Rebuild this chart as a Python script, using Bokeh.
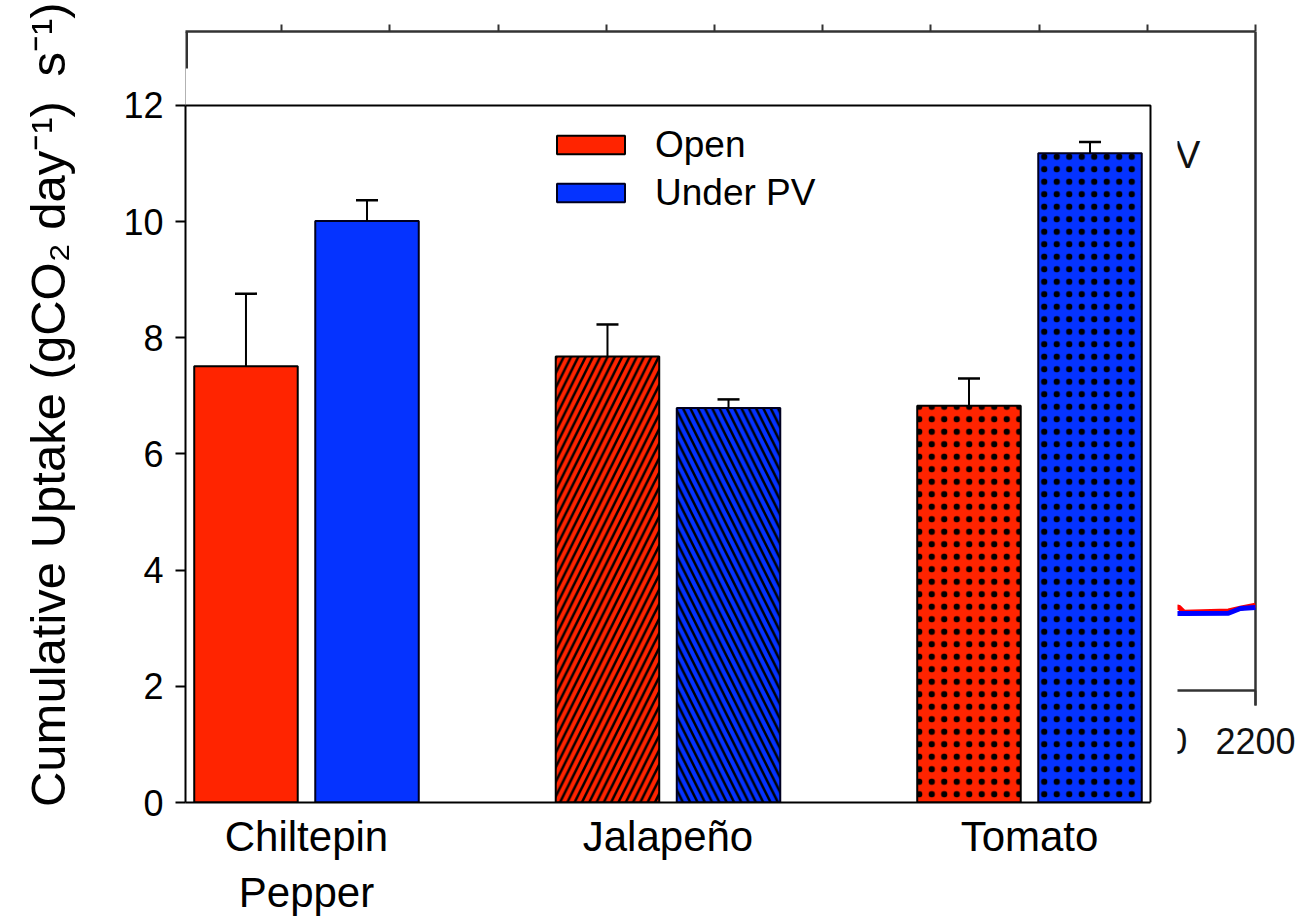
from bokeh.plotting import figure
from bokeh.models import (Range1d, LinearAxis, FixedTicker, Whisker, ColumnDataSource,
                          Legend, LegendItem, TeeHead)
from bokeh.embed import file_html
from bokeh.resources import INLINE
from bokeh.core.properties import value

# ---------------- data (foreground bar chart) ----------------
crops = ["Chiltepin\nPepper", "Jalapeño", "Tomato"]
series_names = ["Open", "Under PV"]
open_mean = [7.51, 7.68, 6.83]
open_err = [1.25, 0.55, 0.47]
pv_mean = [10.01, 6.79, 11.18]
pv_err = [0.36, 0.15, 0.19]
open_hatch = [" ", "/", "."]
pv_hatch = [" ", "\\", "."]
y_ticks = [0, 2, 4, 6, 8, 10, 12]
y_title = "\u2002Cumulative Uptake (gCO\u2082 day\u207b\u00b9)\u2002s\u207b\u00b9)"

# ---------------- data (background chart remnants) ----------------
bg_x_ticks = [200, 400, 600, 800, 1000, 1200, 1400, 1600, 1800, 2000, 2200]
bg_label_ticks = [2000, 2200]
bg_legend = ["Open", "Under PV"]
bg_x = [2040, 2058, 2068, 2150, 2172, 2200]
bg_open = [3.05, 3.17, 2.97, 3.02, 3.12, 3.24]
bg_pv = [2.92, 2.92, 2.92, 2.93, 3.11, 3.15]
bg_y_top = 25.0

RED = "#FF2400"
BLUE = "#0533FF"
FONT = "Liberation Sans"

bar_w = 0.2863
off = 0.1674
fg_x0, fg_x1 = -0.3347, 2.3347

BGX0, BGX1 = 222.18, 2275.79
BGY0 = -4.2489

p = figure(width=1304, height=918, output_backend="svg", toolbar_location=None,
           x_range=Range1d(fg_x0, 2.7386), y_range=Range1d(0, 13.274),
           x_axis_location=None, y_axis_location=None,
           min_border_left=185, min_border_right=8, min_border_top=31, min_border_bottom=116)
p.outline_line_color = None
p.grid.grid_line_color = None
p.background_fill_color = "white"
p.border_fill_color = "white"
p.extra_x_ranges = {"bgx": Range1d(BGX0, BGX1)}
p.extra_y_ranges = {"bgy": Range1d(BGY0, bg_y_top)}

# ---------- background chart (mostly hidden behind the bar chart) ----------
AX = "#333333"
p.segment(x0=[BGX0, bg_x_ticks[0], bg_x_ticks[-1]],
          y0=[0, 0, -0.57],
          x1=[BGX0, bg_x_ticks[-1], bg_x_ticks[-1]],
          y1=[bg_y_top, 0, bg_y_top],
          x_range_name="bgx", y_range_name="bgy", line_color=AX, line_width=[5, 2.5, 2.5])
p.segment(x0=bg_x_ticks, x1=bg_x_ticks, y0=[0] * len(bg_x_ticks), y1=[-0.57] * len(bg_x_ticks),
          x_range_name="bgx", y_range_name="bgy", line_color=AX, line_width=2)
p.line(bg_x, bg_open, x_range_name="bgx", y_range_name="bgy", line_color="#FF0000", line_width=5)
p.line(bg_x, bg_pv, x_range_name="bgx", y_range_name="bgy", line_color="#0000FF", line_width=5)
p.text(x=bg_label_ticks, y=[-1.44] * len(bg_label_ticks), text=[str(t) for t in bg_label_ticks],
       x_range_name="bgx", y_range_name="bgy", text_align="center", text_baseline="top",
       text_font=value(FONT), text_font_size="36px", text_color="#111111")
p.text(x=[1793.3, 1793.3], y=[22.11, 20.33], text=bg_legend,
       x_range_name="bgx", y_range_name="bgy", text_align="left", text_baseline="alphabetic",
       text_font=value(FONT), text_font_size="38px", text_color="#111111")

# white canvas of the bar chart that sits on top of the background chart
p.quad(left=[BGX0], right=[2055.8], bottom=[BGY0], top=[23.597],
       x_range_name="bgx", y_range_name="bgy", fill_color="white", line_color=None)

top_axis = LinearAxis(x_range_name="bgx", ticker=FixedTicker(ticks=bg_x_ticks),
                      bounds=(bg_x_ticks[0], bg_x_ticks[-1]),
                      major_tick_out=7, major_tick_in=0, minor_tick_line_color=None,
                      axis_line_color=AX, axis_line_width=2.5,
                      major_tick_line_color=AX, major_tick_line_width=2,
                      major_label_text_font_size="1px", major_label_text_color=None)
p.add_layout(top_axis, "above")

# ---------------- foreground bar chart ----------------
p.line(x=[fg_x0, fg_x1, fg_x1], y=[12, 12, 0], line_color="black", line_width=2)

def series_source(mean, err, hatch, sign):
    return ColumnDataSource(dict(
        x=[i + sign * off for i in range(len(crops))],
        top=mean,
        upper=[m + e for m, e in zip(mean, err)],
        hatch=hatch,
        scale=[12.5 if h == "." else 14.6 for h in hatch],
        weight=[1 if h == "." else 2.5 for h in hatch],
    ))

src_open = series_source(open_mean, open_err, open_hatch, -1)
src_pv = series_source(pv_mean, pv_err, pv_hatch, +1)

r_open = p.vbar(x="x", top="top", bottom=0, width=bar_w, source=src_open,
                fill_color=RED, line_color="black", line_width=2,
                hatch_pattern="hatch", hatch_color="black", hatch_scale="scale", hatch_weight="weight")
r_pv = p.vbar(x="x", top="top", bottom=0, width=bar_w, source=src_pv,
              fill_color=BLUE, line_color="#000020", line_width=2,
              hatch_pattern="hatch", hatch_color="black", hatch_scale="scale", hatch_weight="weight")

for src in (src_open, src_pv):
    w = Whisker(source=src, base="x", lower="top", upper="upper", dimension="height",
                line_color="black", line_width=2, level="overlay",
                upper_head=TeeHead(size=22, line_color="black", line_width=2.5), lower_head=None)
    p.add_layout(w)

yaxis = LinearAxis(ticker=FixedTicker(ticks=y_ticks), bounds=(0, 12),
                   major_tick_out=10, major_tick_in=0, minor_tick_line_color=None,
                   axis_line_width=2, major_tick_line_width=2,
                   major_label_text_font=FONT, major_label_text_font_size="36px",
                   major_label_text_color="black", major_label_standoff=12,
                   axis_label=y_title, axis_label_text_font=FONT,
                   axis_label_text_font_size="49px", axis_label_text_font_style="normal",
                   axis_label_text_color="black", axis_label_standoff=45)
p.add_layout(yaxis, "left")

xaxis = LinearAxis(ticker=FixedTicker(ticks=list(range(len(crops)))),
                   major_label_overrides={i: c for i, c in enumerate(crops)},
                   bounds=(fg_x0, fg_x1), major_tick_line_color=None, major_tick_out=0,
                   minor_tick_line_color=None, axis_line_width=2,
                   major_label_text_font=FONT, major_label_text_font_size="42px",
                   major_label_text_color="black", major_label_standoff=10)
p.add_layout(xaxis, "below")

legend = Legend(items=[LegendItem(label=series_names[0], renderers=[r_open], index=0),
                       LegendItem(label=series_names[1], renderers=[r_pv], index=0)],
                location=(363, 588.5), orientation="vertical",
                glyph_width=85, glyph_height=23, label_standoff=22,
                label_text_font=FONT, label_text_font_size="37px", label_text_color="black",
                spacing=6, padding=0, margin=0, label_height=40,
                border_line_color=None, background_fill_alpha=0)
p.add_layout(legend)

open("out.html", "w").write(file_html(p, INLINE))
